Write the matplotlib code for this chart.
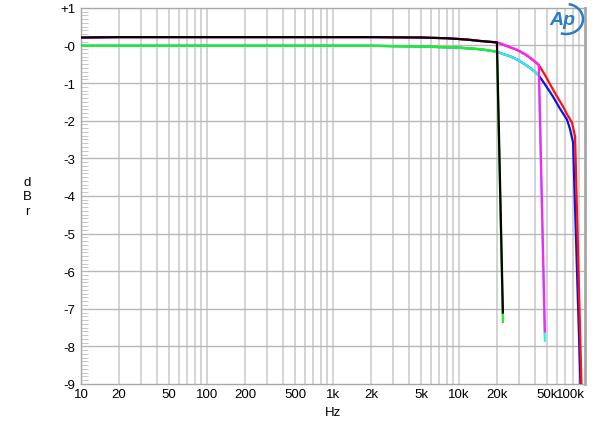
import numpy as np
import matplotlib
matplotlib.use('Agg')
import matplotlib.pyplot as plt
from matplotlib.ticker import FixedLocator, NullFormatter
from matplotlib.patches import Arc

plt.rcParams['font.family'] = ['Liberation Sans', 'DejaVu Sans']

# Shared passband (upper = black/magenta/red, lower = green/cyan/blue)
f_pass = [10, 20, 50, 100, 200, 500, 1000, 2000, 5000, 8000, 10000, 12000, 14500, 17000, 20000]
upper_pass = [0.21, 0.22, 0.22, 0.22, 0.22, 0.22, 0.22, 0.22, 0.21, 0.19, 0.17, 0.15, 0.12, 0.10, 0.08]
lower_pass = [-0.01, -0.01, -0.01, -0.01, -0.01, -0.01, -0.01, -0.01, -0.03, -0.05, -0.06, -0.08, -0.10, -0.13, -0.17]

# narrowest bandwidth
black_f = f_pass + [22300]
black_db = upper_pass + [-7.1]
green_f = f_pass + [22300]
green_db = lower_pass + [-7.35]

# middle bandwidth
mid_f = [22000, 25000, 28000, 30500, 34000, 37000, 40000, 43000]
magenta_f = f_pass + mid_f + [48000]
magenta_db = upper_pass + [0.03, -0.04, -0.10, -0.16, -0.25, -0.34, -0.43, -0.52, -7.6]
cyan_f = f_pass + mid_f + [48000]
cyan_db = lower_pass + [-0.22, -0.28, -0.35, -0.42, -0.52, -0.61, -0.70, -0.80, -7.85]

# widest bandwidth
red_f = f_pass + mid_f + [48000, 55700, 61000, 66800, 72000, 78800, 83400, 94500]
red_db = upper_pass + [0.03, -0.04, -0.10, -0.16, -0.25, -0.34, -0.43, -0.52,
                       -0.78, -1.17, -1.40, -1.62, -1.83, -2.05, -2.42, -9.5]
blue_f = f_pass + mid_f + [48000, 55700, 63000, 71900, 76000, 80400, 93000]
blue_db = lower_pass + [-0.22, -0.28, -0.35, -0.42, -0.52, -0.61, -0.70, -0.80,
                        -1.03, -1.36, -1.67, -1.97, -2.22, -2.58, -9.5]

x_ticks = [10, 20, 50, 100, 200, 500, 1000, 2000, 5000, 10000, 20000, 50000, 100000]
x_labels = ['10', '20', '50', '100', '200', '500', '1k', '2k', '5k', '10k', '20k', '50k', '100k']
y_ticks = [1, 0, -1, -2, -3, -4, -5, -6, -7, -8, -9]
y_labels = ['+1', '-0', '-1', '-2', '-3', '-4', '-5', '-6', '-7', '-8', '-9']

fig = plt.figure(figsize=(6.0, 4.27), dpi=100)
ax = fig.add_axes([0.135, 0.0984, 0.84, 0.881])

lw = 1.6
ax.plot(blue_f, blue_db, color='#1010e0', lw=lw, zorder=3)
ax.plot(red_f, red_db, color='#ff1010', lw=lw, zorder=4)
ax.plot(cyan_f, cyan_db, color='#30f0f0', lw=lw, zorder=5)
ax.plot(magenta_f, magenta_db, color='#ff20ff', lw=lw, zorder=6)
ax.plot(green_f, green_db, color='#20f020', lw=lw, zorder=7)
ax.plot(black_f, black_db, color='#000000', lw=lw, zorder=8)

ax.set_xscale('log')
ax.set_xlim(10, 100000)
ax.set_ylim(-9, 1)

# grid lines on every log step and every dB
grid_x = []
for dec in [10, 100, 1000, 10000]:
    for m in range(1, 10):
        grid_x.append(dec * m)
for gx in grid_x[1:]:
    ax.axvline(gx, color='#cccccc', lw=1.2, zorder=1)
for gy in y_ticks[1:-1]:
    ax.axhline(gy, color='#b8b8b8', lw=1.0, zorder=1)

ax.xaxis.set_major_locator(FixedLocator(x_ticks))
ax.xaxis.set_minor_locator(FixedLocator([]))
ax.set_xticklabels(x_labels)
ax.set_yticks(y_ticks)
ax.set_yticklabels(y_labels)
ax.yaxis.set_minor_locator(FixedLocator(np.arange(-9, 1.01, 0.1)))
ax.yaxis.set_minor_formatter(NullFormatter())
ax.tick_params(axis='both', which='major', length=0, labelsize=9.5, pad=4)
ax.tick_params(axis='y', which='minor', direction='in', length=5, color='#c8c8c8', width=0.7)
ax.tick_params(axis='x', which='major', pad=3)
ax.get_xticklabels()[-1].set_horizontalalignment('right')

for s in ax.spines.values():
    s.set_color('#a8a8a8')
    s.set_linewidth(1.0)
ax.spines['right'].set_linewidth(2.0)

fig.text(0.555, 0.033, 'Hz', ha='center', va='center', fontsize=9.5)
fig.text(0.045, 0.538, 'd\nB\nr', ha='center', va='center', fontsize=9.5, linespacing=1.25)

# Ap logo
fig.text(0.938, 0.953, 'Ap', ha='center', va='center', fontsize=14, color='#2a7cc4',
         fontstyle='italic', fontweight='bold')
logo_arc = Arc((566, 407), 34, 30, theta1=-110, theta2=80, color='#2a7cc4', lw=1.8,
               transform=None)
fig.add_artist(logo_arc)

fig.savefig('out.png', dpi=100)
